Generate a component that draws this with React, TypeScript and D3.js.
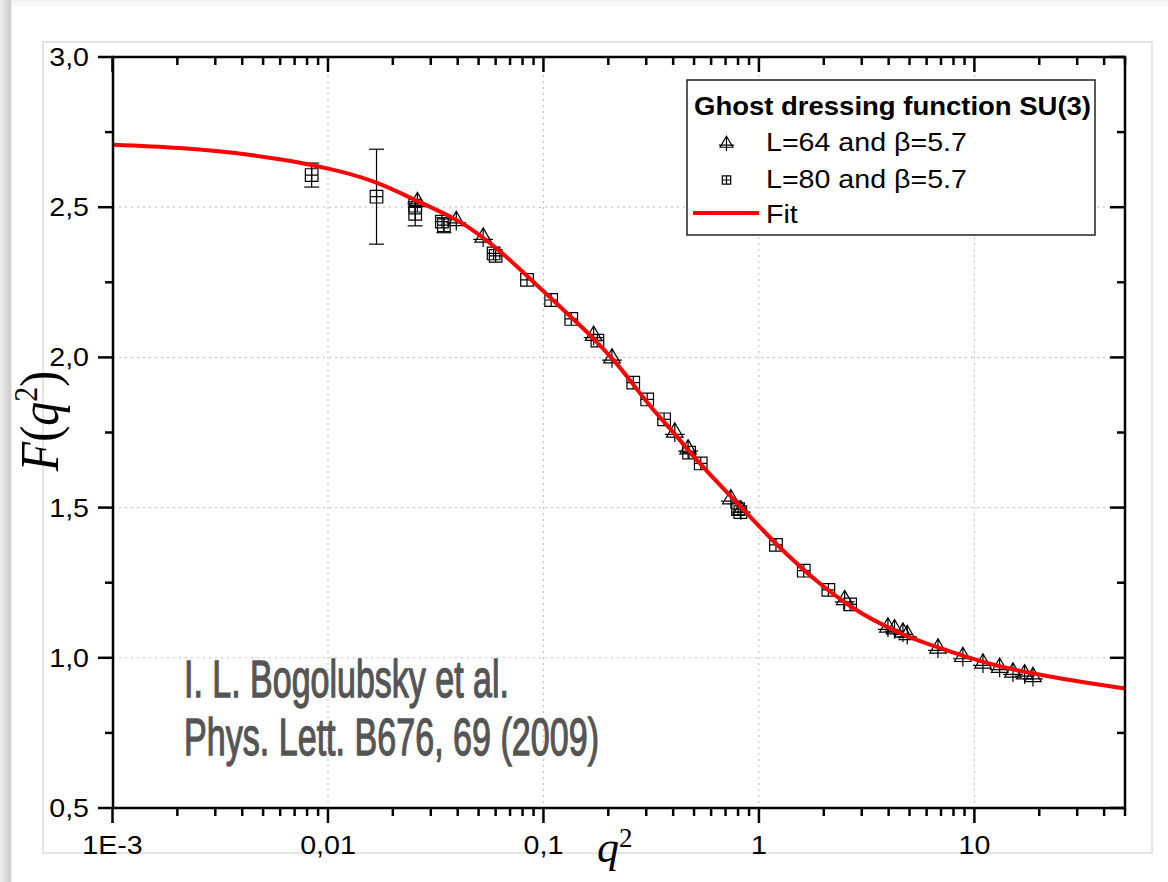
import React from "react";
import * as d3 from "d3";

// ---- Data ----
const fitQ2 = [0.001, 0.00204, 0.00437, 0.00741, 0.017, 0.0257, 0.0442, 0.0631, 0.0902, 0.129, 0.171, 0.212, 0.315, 0.404, 0.5, 0.796, 1.265, 1.875, 2.68, 4.57, 7.82, 13.4, 22.8, 50];
const fitF = [2.708, 2.697, 2.674, 2.648, 2.58, 2.522, 2.436, 2.352, 2.25, 2.146, 2.062, 1.99, 1.836, 1.747, 1.669, 1.514, 1.364, 1.253, 1.17, 1.081, 1.02, 0.97, 0.937, 0.898];

const l64Q2 = [0.026, 0.0394, 0.0525, 0.171, 0.208, 0.407, 0.469, 0.741, 0.825, 2.5, 3.97, 4.26, 4.66, 4.88, 6.78, 8.84, 10.96, 13.1, 15.1, 17.1, 18.7];
const l64F = [2.52, 2.457, 2.402, 2.075, 2.0, 1.753, 1.697, 1.531, 1.494, 1.195, 1.104, 1.098, 1.087, 1.079, 1.034, 1.006, 0.984, 0.97, 0.954, 0.948, 0.939];

const l80Q2 = [0.0084, 0.0168, 0.0254, 0.0254, 0.0338, 0.0345, 0.0587, 0.06, 0.0839, 0.1086, 0.1346, 0.178, 0.261, 0.303, 0.363, 0.474, 0.537, 0.8, 0.82, 1.2, 1.615, 2.1, 2.65];
const l80F = [2.607, 2.535, 2.505, 2.478, 2.452, 2.44, 2.346, 2.338, 2.258, 2.191, 2.128, 2.056, 1.916, 1.86, 1.794, 1.683, 1.647, 1.495, 1.485, 1.376, 1.29, 1.226, 1.178];
const l80Err = [0.04, 0.158, 0, 0.04, 0, 0.025, 0, 0, 0, 0, 0, 0, 0, 0, 0, 0, 0, 0, 0, 0, 0, 0, 0];

const xMajor = [0.001, 0.01, 0.1, 1, 10];
const xTickLabels = ["1E-3", "0,01", "0,1", "1", "10"];
const yMajor = [0.5, 1.0, 1.5, 2.0, 2.5, 3.0];
const yTickLabels = ["0,5", "1,0", "1,5", "2,0", "2,5", "3,0"];
const yMinor = [0.75, 1.25, 1.75, 2.25, 2.75];

const legendTitle = "Ghost dressing function SU(3)";
const legendItems = ["L=64 and \u03b2=5.7", "L=80 and \u03b2=5.7", "Fit"];
const noteLines = ["I. L. Bogolubsky et al.", "Phys. Lett. B676, 69 (2009)"];

const SANS = "'Liberation Sans', Arial, Helvetica, sans-serif";
const SERIF = "'Liberation Serif', 'Times New Roman', serif";

function Tri({ cx, cy, s = 1 }: { cx: number; cy: number; s?: number }) {
  return (
    <g transform={`translate(${cx},${cy}) scale(${s})`}>
      <path
        d="M0,-8 L7.5,5 L-7.5,5 Z M0,-8 L0,9.5 M-9,2.5 L9,2.5"
        fill="none"
        stroke="#000"
        strokeWidth={1.2 / s}
      />
    </g>
  );
}

function Sq({ cx, cy, s = 1 }: { cx: number; cy: number; s?: number }) {
  return (
    <g transform={`translate(${cx},${cy}) scale(${s})`}>
      <path
        d="M-6,-6 H6 V6 H-6 Z M0,-6 V6 M-6,0 H6"
        fill="none"
        stroke="#000"
        strokeWidth={1.2 / s}
      />
    </g>
  );
}

export default function App() {
  const L = 113, R = 1125, T = 57, B = 808;
  const x = d3.scaleLog().domain([0.001, 50]).range([112.5, 1125]);
  const y = d3.scaleLinear().domain([0.5, 3.0]).range([B, T]);

  const allXTicks = x.ticks().filter((v) => v >= 0.001 && v <= 50);
  const isMajorX = (v: number) => xMajor.some((m) => Math.abs(v / m - 1) < 1e-6);
  const xMinor = allXTicks.filter((v) => !isMajorX(v));

  const line = d3
    .line<number>()
    .x((_, i) => x(fitQ2[i]))
    .y((_, i) => y(fitF[i]))
    .curve(d3.curveMonotoneX);

  const txt = (
    key: string,
    tx: number,
    ty: number,
    content: React.ReactNode,
    opts: { anchor?: string; size?: number; weight?: string; sx?: number; fill?: string; family?: string } = {}
  ) => (
    <text
      key={key}
      transform={`translate(${tx},${ty}) scale(${opts.sx ?? 1.1},1)`}
      textAnchor={opts.anchor ?? "start"}
      fontFamily={opts.family ?? SANS}
      fontSize={opts.size ?? 26}
      fontWeight={opts.weight ?? "normal"}
      fill={opts.fill ?? "#000"}
    >
      {content}
    </text>
  );

  return (
    <svg
      width={1168}
      height={882}
      style={{ position: "absolute", left: 0, top: 0, display: "block", background: "#fff" }}
    >
      <defs>
        <linearGradient id="lsh" x1="0" x2="1" y1="0" y2="0">
          <stop offset="0" stopColor="#eeeeee" />
          <stop offset="0.55" stopColor="#dadada" />
          <stop offset="0.85" stopColor="#cdcdcd" />
          <stop offset="1" stopColor="#f4f4f4" />
        </linearGradient>
        <linearGradient id="tsh" x1="0" x2="0" y1="0" y2="1">
          <stop offset="0" stopColor="#f3f3f3" />
          <stop offset="1" stopColor="#fafafa" />
        </linearGradient>
      </defs>
      <rect x={0} y={0} width={1168} height={882} fill="#fff" />
      <rect x={12} y={0} width={1156} height={7} fill="url(#tsh)" />
      <rect x={0} y={0} width={12} height={882} fill="url(#lsh)" />
      {/* figure border */}
      <rect x={43} y={42} width={1109} height={811} fill="none" stroke="#dcdcdc" strokeWidth={1.5} />

      {/* grid */}
      <g stroke="#bdbdbd" strokeWidth={1} strokeDasharray="2,4">
        {xMajor.slice(1).map((v) => (
          <line key={"gx" + v} x1={x(v)} x2={x(v)} y1={T} y2={B} />
        ))}
        {yMajor.slice(1, -1).map((v) => (
          <line key={"gy" + v} x1={L} x2={R} y1={y(v)} y2={y(v)} />
        ))}
      </g>

      {/* annotation */}
      {noteLines.map((t, i) => (
        <text
          key={"note" + i}
          x={184}
          y={i === 0 ? 697 : 755}
          textLength={i === 0 ? 325 : 415}
          lengthAdjust="spacingAndGlyphs"
          fontFamily={SANS}
          fontSize={51}
          fill="#555555"
          stroke="#555555"
          strokeWidth={1.3}
        >
          {t}
        </text>
      ))}

      {/* error bars */}
      <g stroke="#000" strokeWidth={1.2}>
        {l80Q2.map((q, i) =>
          l80Err[i] > 0 ? (
            <g key={"eb" + i}>
              <line x1={x(q)} x2={x(q)} y1={y(l80F[i] - l80Err[i])} y2={y(l80F[i] + l80Err[i])} />
              <line x1={x(q) - 7.5} x2={x(q) + 7.5} y1={y(l80F[i] - l80Err[i])} y2={y(l80F[i] - l80Err[i])} />
              <line x1={x(q) - 7.5} x2={x(q) + 7.5} y1={y(l80F[i] + l80Err[i])} y2={y(l80F[i] + l80Err[i])} />
            </g>
          ) : null
        )}
      </g>

      {/* data */}
      {l80Q2.map((q, i) => (
        <Sq key={"s" + i} cx={x(q)} cy={y(l80F[i])} s={1.05} />
      ))}
      {l64Q2.map((q, i) => (
        <Tri key={"t" + i} cx={x(q)} cy={y(l64F[i])} s={1.1} />
      ))}

      {/* fit */}
      <path d={line(fitF) ?? ""} fill="none" stroke="#ff0000" strokeWidth={4} />

      {/* axes frame */}
      <rect x={L} y={T} width={R - L} height={B - T} fill="none" stroke="#000" strokeWidth={2.5} />

      {/* ticks */}
      <g stroke="#000" strokeWidth={2.5}>
        {xMajor.map((v) => (
          <g key={"xt" + v}>
            <line x1={x(v)} x2={x(v)} y1={B} y2={B + 15} />
            <line x1={x(v)} x2={x(v)} y1={T} y2={T + 15} />
          </g>
        ))}
        {xMinor.map((v) => (
          <g key={"xm" + v}>
            <line x1={x(v)} x2={x(v)} y1={B} y2={B + 8} />
            <line x1={x(v)} x2={x(v)} y1={T} y2={T + 8} />
          </g>
        ))}
        {yMajor.map((v) => (
          <g key={"yt" + v}>
            <line x1={L - 15} x2={L} y1={y(v)} y2={y(v)} />
            <line x1={R - 15} x2={R} y1={y(v)} y2={y(v)} />
          </g>
        ))}
        {yMinor.map((v) => (
          <g key={"ym" + v}>
            <line x1={L - 8} x2={L} y1={y(v)} y2={y(v)} />
            <line x1={R - 8} x2={R} y1={y(v)} y2={y(v)} />
          </g>
        ))}
      </g>

      {/* tick labels */}
      {xMajor.map((v, i) => txt("xl" + i, x(v), 854, xTickLabels[i], { anchor: "middle" }))}
      {yMajor.map((v, i) => txt("yl" + i, 89, y(v) + 9, yTickLabels[i], { anchor: "end" }))}

      {/* axis titles */}
      <text x={597} y={862} fontFamily={SERIF} fontSize={44}>
        <tspan fontStyle="italic">q</tspan>
        <tspan fontSize={27} dy={-15}>2</tspan>
      </text>
      <text
        transform="translate(58,421) rotate(-90) scale(1,1.15)"
        textAnchor="middle"
        fontFamily={SERIF}
        fontSize={48}
      >
        <tspan fontStyle="italic">F</tspan>
        <tspan>(</tspan>
        <tspan fontStyle="italic">q</tspan>
        <tspan fontSize={30} dy={-18}>2</tspan>
        <tspan dy={18}>)</tspan>
      </text>

      {/* legend */}
      <rect x={687} y={80} width={408} height={155} fill="#fff" stroke="#222" strokeWidth={1.5} />
      {txt("lt", 694, 115, legendTitle, { size: 25, weight: "bold" })}
      <Tri cx={726.5} cy={143} s={0.85} />
      <Sq cx={726.5} cy={180} s={0.7} />
      <line x1={693} x2={759} y1={213} y2={213} stroke="#ff0000" strokeWidth={4} />
      {legendItems.map((t, i) => txt("li" + i, 766, [151, 188, 223][i], t, { size: 26 }))}
    </svg>
  );
}
